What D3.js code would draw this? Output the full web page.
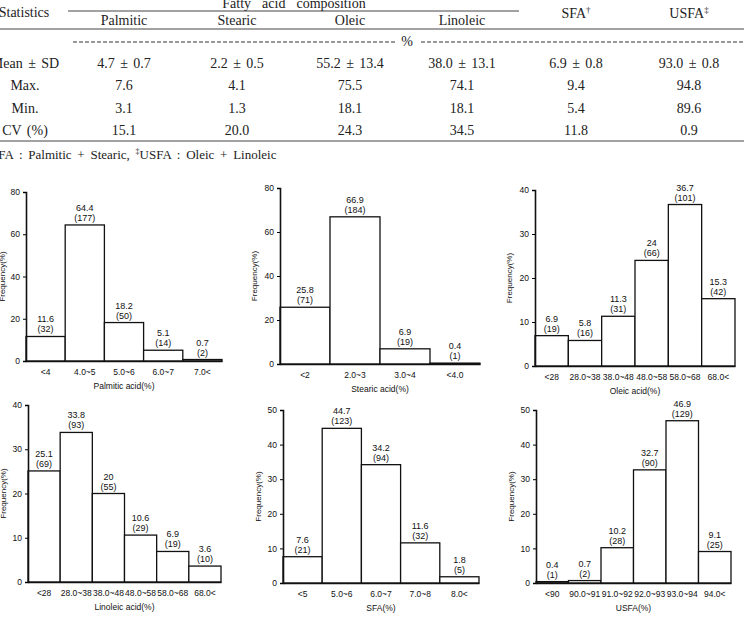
<!DOCTYPE html>
<html>
<head>
<meta charset="utf-8">
<script src="https://cdn.jsdelivr.net/npm/d3@7"></script>
<style>
  body { margin: 0; background: #fff; }
  svg { display: block; }
</style>
</head>
<body>
<div id="index"></div>
<script>
// ---- table data ----
var tableColumns = ["Palmitic", "Stearic", "Oleic", "Linoleic"];
var rowLabels = ["Mean ± SD", "Max.", "Min.", "CV (%)"];
var meanSd = ["4.7 ± 0.7", "2.2 ± 0.5", "55.2 ± 13.4", "38.0 ± 13.1", "6.9 ± 0.8", "93.0 ± 0.8"];
var maxVals = ["7.6", "4.1", "75.5", "74.1", "9.4", "94.8"];
var minVals = ["3.1", "1.3", "18.1", "18.1", "5.4", "89.6"];
var cvVals = ["15.1", "20.0", "24.3", "34.5", "11.8", "0.9"];

// ---- histogram data ----
var palmiticCats = ["<4", "4.0~5", "5.0~6", "6.0~7", "7.0<"];
var palmiticPct = [11.6, 64.4, 18.2, 5.1, 0.7];
var palmiticN = [32, 177, 50, 14, 2];

var stearicCats = ["<2", "2.0~3", "3.0~4", "<4.0"];
var stearicPct = [25.8, 66.9, 6.9, 0.4];
var stearicN = [71, 184, 19, 1];

var oleicCats = ["<28", "28.0~38", "38.0~48", "48.0~58", "58.0~68", "68.0<"];
var oleicPct = [6.9, 5.8, 11.3, 24, 36.7, 15.3];
var oleicN = [19, 16, 31, 66, 101, 42];

var linoleicCats = ["<28", "28.0~38", "38.0~48", "48.0~58", "58.0~68", "68.0<"];
var linoleicPct = [25.1, 33.8, 20, 10.6, 6.9, 3.6];
var linoleicN = [69, 93, 55, 29, 19, 10];

var sfaCats = ["<5", "5.0~6", "6.0~7", "7.0~8", "8.0<"];
var sfaPct = [7.6, 44.7, 34.2, 11.6, 1.8];
var sfaN = [21, 123, 94, 32, 5];

var usfaCats = ["<90", "90.0~91", "91.0~92", "92.0~93", "93.0~94", "94.0<"];
var usfaPct = [0.4, 0.7, 10.2, 32.7, 46.9, 9.1];
var usfaN = [1, 2, 28, 90, 129, 25];

var svg = d3.select("#index").append("svg")
    .attr("width", 744)
    .attr("height", 617);

// ================= table =================
var serif = "'Liberation Serif', 'Times New Roman', serif";
var colX = [124, 237, 350, 462, 576, 689];
var ink = "#222";

function ttext(x, y, s, anchor) {
    return svg.append("text")
        .attr("x", x).attr("y", y)
        .attr("text-anchor", anchor || "middle")
        .style("font-family", serif)
        .style("font-size", "14px")
        .style("word-spacing", "2px")
        .attr("fill", ink)
        .text(s);
}

ttext(294, 8, "Fatty  acid  composition").style("white-space", "pre");
ttext(24, 17, "Statistics");
svg.append("line").attr("x1", 68).attr("x2", 519).attr("y1", 11).attr("y2", 11)
    .attr("stroke", "#444").attr("stroke-width", 1);
tableColumns.forEach(function (c, i) { ttext(colX[i], 25, c); });

var sfaHead = ttext(colX[4], 18, "SFA");
sfaHead.append("tspan").attr("dy", -5).style("font-size", "9px").text("†");
var usfaHead = ttext(colX[5], 18, "USFA");
usfaHead.append("tspan").attr("dy", -5).style("font-size", "9px").text("‡");

svg.append("line").attr("x1", 0).attr("x2", 744).attr("y1", 29).attr("y2", 29)
    .attr("stroke", "#444").attr("stroke-width", 1);

// dashed "%" row
svg.append("line").attr("x1", 73).attr("x2", 395).attr("y1", 42).attr("y2", 42)
    .attr("stroke", "#333").attr("stroke-width", 1).attr("stroke-dasharray", "4,2");
svg.append("line").attr("x1", 421).attr("x2", 744).attr("y1", 42).attr("y2", 42)
    .attr("stroke", "#333").attr("stroke-width", 1).attr("stroke-dasharray", "4,2");
ttext(407, 46, "%");

var rowY = [68, 90, 113, 135];
var rowData = [meanSd, maxVals, minVals, cvVals];
rowLabels.forEach(function (lab, r) {
    ttext(25, rowY[r], lab);
    rowData[r].forEach(function (v, i) { ttext(colX[i], rowY[r], v); });
});

svg.append("line").attr("x1", 0).attr("x2", 744).attr("y1", 141).attr("y2", 141)
    .attr("stroke", "#444").attr("stroke-width", 1);

var foot = svg.append("text")
    .attr("x", -13).attr("y", 159)
    .style("font-family", serif)
    .style("font-size", "13px")
    .style("word-spacing", "2.5px")
    .attr("fill", ink);
foot.append("tspan").attr("dy", -5).style("font-size", "8px").text("†");
foot.append("tspan").attr("dy", 5).text("SFA : Palmitic + Stearic, ");
foot.append("tspan").attr("dy", -5).style("font-size", "8px").text("‡");
foot.append("tspan").attr("dy", 5).text("USFA : Oleic + Linoleic");

// ================= histograms =================
var sans = "'Liberation Sans', Arial, sans-serif";

var panels = [
    { cats: palmiticCats, pct: palmiticPct, n: palmiticN, title: "Palmitic acid(%)", max: 80, step: 20,
      x0: 26, x1: 222, yTop: 192, yBot: 361, labX: 5 },
    { cats: stearicCats, pct: stearicPct, n: stearicN, title: "Stearic acid(%)", max: 80, step: 20,
      x0: 280, x1: 480, yTop: 188, yBot: 364, labX: 257 },
    { cats: oleicCats, pct: oleicPct, n: oleicN, title: "Oleic acid(%)", max: 40, step: 10,
      x0: 535, x1: 735, yTop: 190, yBot: 366, labX: 512 },
    { cats: linoleicCats, pct: linoleicPct, n: linoleicN, title: "Linoleic acid(%)", max: 40, step: 10,
      x0: 28, x1: 221, yTop: 405, yBot: 582, labX: 6 },
    { cats: sfaCats, pct: sfaPct, n: sfaN, title: "SFA(%)", max: 50, step: 10,
      x0: 283, x1: 479, yTop: 410, yBot: 583, labX: 261 },
    { cats: usfaCats, pct: usfaPct, n: usfaN, title: "USFA(%)", max: 50, step: 10,
      x0: 536, x1: 731, yTop: 410, yBot: 583, labX: 514 }
];

panels.forEach(function (p) {
    var x = d3.scaleBand().domain(p.cats).range([p.x0, p.x1]).padding(0);
    var y = d3.scaleLinear().domain([0, p.max]).range([p.yBot, p.yTop]);
    var g = svg.append("g");

    // bars
    g.selectAll("rect")
        .data(p.pct)
        .enter().append("rect")
        .attr("x", function (d, i) { return x(p.cats[i]); })
        .attr("y", function (d) { return y(d); })
        .attr("width", x.bandwidth())
        .attr("height", function (d) { return y(0) - y(d); })
        .attr("fill", "#fff")
        .attr("stroke", "#111")
        .attr("stroke-width", 1.3);

    // value labels
    g.selectAll(".val")
        .data(p.pct)
        .enter().append("text")
        .attr("class", "val")
        .attr("x", function (d, i) { return x(p.cats[i]) + x.bandwidth() / 2; })
        .attr("y", function (d) { return y(d) - 14; })
        .attr("text-anchor", "middle")
        .style("font-family", sans)
        .style("font-size", "9px")
        .attr("fill", "#111")
        .text(function (d) { return d; });
    g.selectAll(".cnt")
        .data(p.n)
        .enter().append("text")
        .attr("class", "cnt")
        .attr("x", function (d, i) { return x(p.cats[i]) + x.bandwidth() / 2; })
        .attr("y", function (d, i) { return y(p.pct[i]) - 4; })
        .attr("text-anchor", "middle")
        .style("font-family", sans)
        .style("font-size", "9px")
        .attr("fill", "#111")
        .text(function (d) { return "(" + d + ")"; });

    // y axis
    var ya = g.append("g")
        .attr("transform", "translate(" + p.x0 + ",0)")
        .call(d3.axisLeft(y).tickValues(d3.range(0, p.max + 1, p.step)).tickSize(3).tickPadding(3));
    ya.select(".domain").attr("stroke", "#111").attr("stroke-width", 1.6);
    ya.selectAll("text").style("font-family", sans).style("font-size", "8.5px").attr("fill", "#111");

    // x axis
    var xa = g.append("g")
        .attr("transform", "translate(0," + p.yBot + ")")
        .call(d3.axisBottom(x).tickSize(0).tickPadding(8));
    xa.select(".domain").attr("stroke", "#111").attr("stroke-width", 1.6);
    xa.selectAll("text").style("font-family", sans).style("font-size", "8.5px").attr("fill", "#111");

    // titles
    g.append("text")
        .attr("x", (p.x0 + p.x1) / 2)
        .attr("y", p.yBot + 28)
        .attr("text-anchor", "middle")
        .style("font-family", sans)
        .style("font-size", "8.5px")
        .attr("fill", "#111")
        .text(p.title);
    g.append("text")
        .attr("text-anchor", "middle")
        .attr("transform", "translate(" + p.labX + "," + (p.yTop + p.yBot) / 2 + ")rotate(-90)")
        .style("font-family", sans)
        .style("font-size", "8px")
        .attr("fill", "#111")
        .text("Frequency(%)");
});
</script>
</body>
</html>
